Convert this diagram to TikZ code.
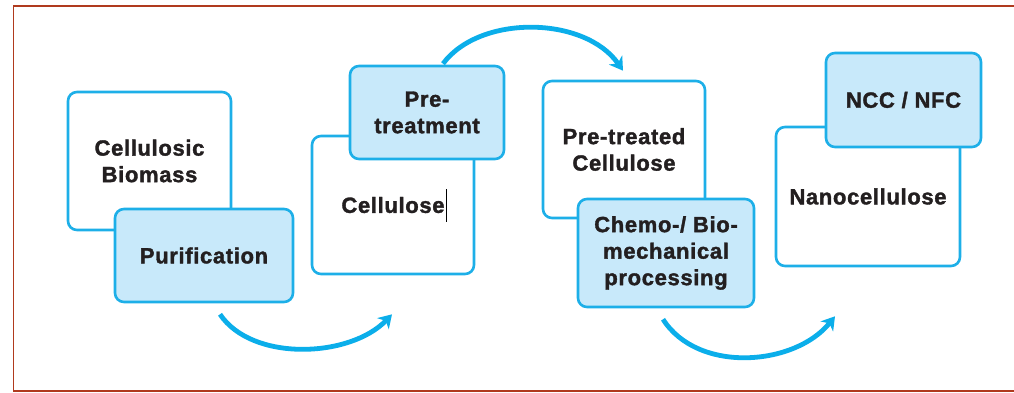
\documentclass[tikz,border=0pt]{standalone}
\usepackage{fontspec}
\setmainfont{Liberation Sans}[BoldFeatures={FakeBold=1.6,LetterSpace=3}]
\usetikzlibrary{arrows.meta,calc}
\definecolor{boxline}{HTML}{1DAFE8}
\definecolor{boxfill}{HTML}{C8E9FA}
\definecolor{arrowc}{HTML}{0BAEEA}
\definecolor{frame}{HTML}{B03A1E}
\definecolor{txt}{HTML}{231F20}
\begin{document}
\begin{tikzpicture}[x=1pt,y=-1pt,
  base/.style={draw=boxline,line width=2.6pt,rounded corners=9pt,align=center,
    font=\fontsize{22}{26.5}\selectfont\bfseries,text=txt,inner sep=0pt},
  whitebox/.style={base,fill=white},
  bluebox/.style={base,fill=boxfill},
  flow/.style={draw=arrowc,line width=4.8pt,-{Stealth[length=13pt,width=16pt,inset=4pt]}}]
\useasboundingbox (0,0) rectangle (1014,393);
\draw[frame,line width=1.6pt] (1016,6) -- (13.5,6) -- (13.5,391) -- (1016,391);
% white boxes
\node[whitebox,minimum width=163pt,minimum height=138pt] (bio) at (149.5,161) {Cellulosic\\Biomass};
\node[whitebox,minimum width=162pt,minimum height=138pt] (cel) at (393,205) {Cellulose};
\node[whitebox,minimum width=162pt,minimum height=137pt] (ptc) at (624,149.5) {Pre-treated\\Cellulose};
\node[whitebox,minimum width=184pt,minimum height=139pt] (nano) at (868,196.5) {Nanocellulose};
% blue boxes
\node[bluebox,minimum width=178pt,minimum height=93pt] (pur) at (204,255.5) {Purification};
\node[bluebox,minimum width=154pt,minimum height=93pt] (pre) at (427,112.5) {Pre-\\treatment};
\node[bluebox,minimum width=176pt,minimum height=108pt] (chem) at (666,253) {Chemo-/ Bio-\\mechanical\\processing};
\node[bluebox,minimum width=155pt,minimum height=94pt] (ncc) at (903.5,100) {NCC / NFC};
% text cursor mark
\draw[black,line width=0.9pt] (446,189) -- (446,222);
% arrows
\coordinate (a1s) at ($(pur.south)+(16,11)$);
\coordinate (a1e) at ($(cel.south)+(-1,39)$);
\coordinate (a2s) at ($(pre.north)+(16,-1)$);
\coordinate (a2e) at ($(ptc.north)+(-1,-9)$);
\coordinate (a3s) at ($(chem.south)+(-3,11)$);
\coordinate (a3e) at ($(nano.south)+(-33,49)$);
\draw[flow] (a1s) .. controls (252,362) and (350,358) .. (a1e);
\draw[flow] (a2s) .. controls (480,14) and (585,16) .. (a2e);
\draw[flow] (a3s) .. controls (698,374) and (795,366) .. (a3e);
\end{tikzpicture}
\end{document}
